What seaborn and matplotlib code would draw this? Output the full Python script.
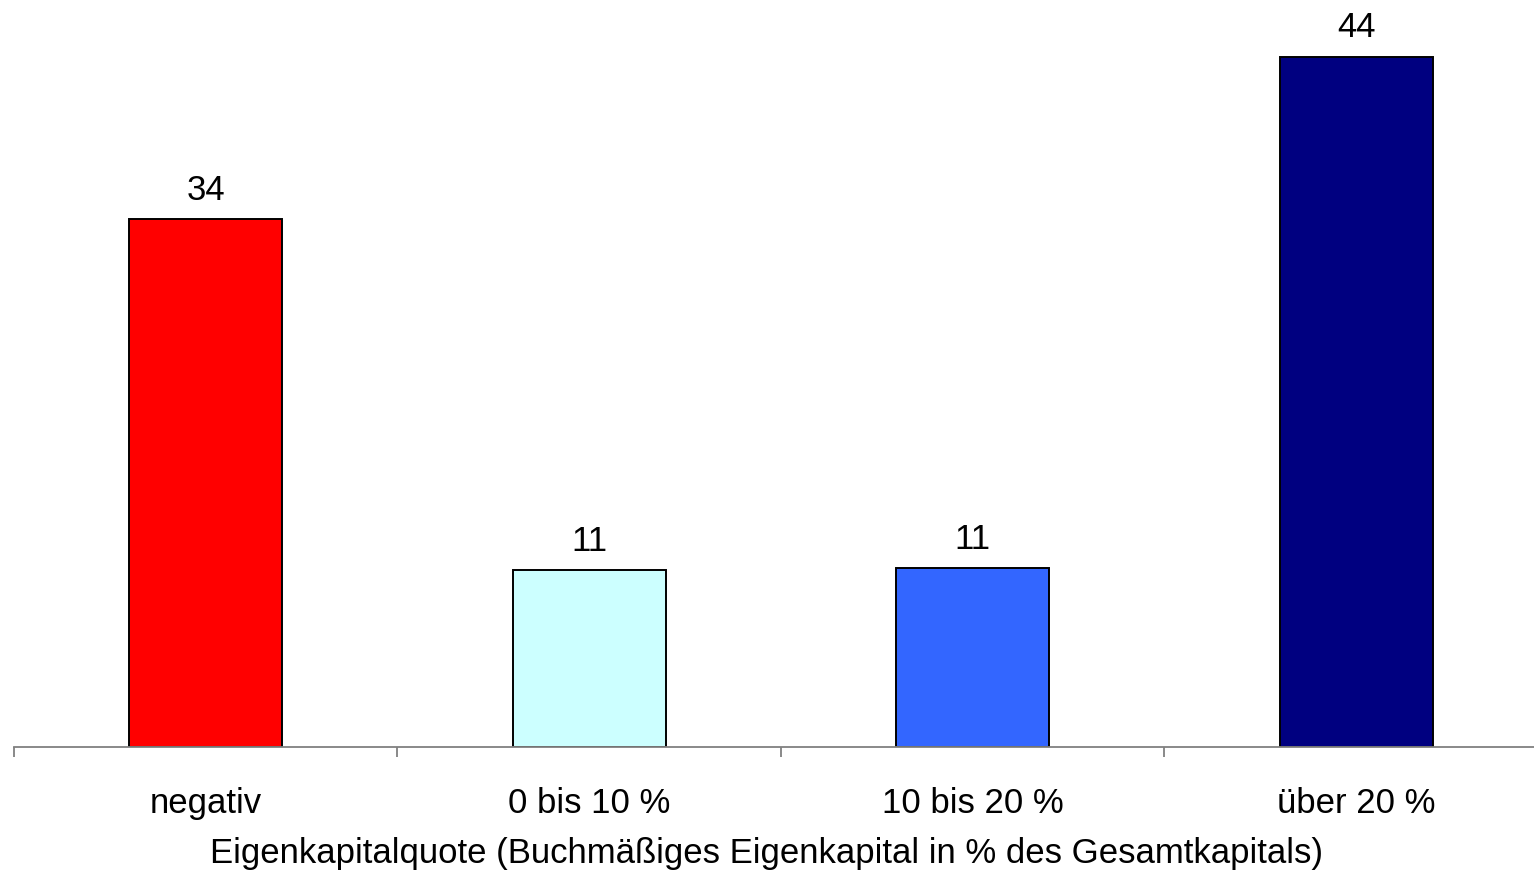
import matplotlib
matplotlib.use("Agg")
import matplotlib.pyplot as plt
import seaborn as sns
import pandas as pd
from matplotlib.ticker import FixedLocator

# Anteil der Unternehmen je Eigenkapitalquote-Klasse
categories = ["negativ", "0 bis 10 %", "10 bis 20 %", "über 20 %"]
values = [33.8, 11.3, 11.45, 44.2]
colors = ["#FF0000", "#CCFFFF", "#3366FF", "#000080"]
xlabel = "Eigenkapitalquote (Buchmäßiges Eigenkapital in % des Gesamtkapitals)"

sns.set_style("white")
plt.rcParams["font.family"] = ["Liberation Sans", "DejaVu Sans"]
plt.rcParams["text.color"] = "black"
plt.rcParams["xtick.color"] = "#808080"
plt.rcParams["xtick.labelcolor"] = "black"
plt.rcParams["axes.labelcolor"] = "black"

df = pd.DataFrame({"Klasse": categories, "Wert": values})

W, H = 1534, 877
fig = plt.figure(figsize=(W / 100, H / 100), dpi=100)
ymax = 46.0
px_per_unit = 15.62
ax_left, ax_right = 14, 1548
base = 747
ax_top = base - ymax * px_per_unit
ax = fig.add_axes([ax_left / W, (H - base) / H, (ax_right - ax_left) / W, (base - ax_top) / H])

sns.barplot(data=df, x="Klasse", y="Wert", hue="Klasse", palette=colors,
            width=0.4, edgecolor="black", linewidth=1.4, legend=False,
            saturation=1, ax=ax)

for cont in ax.containers:
    ax.bar_label(cont, fmt="%.0f", padding=9, fontsize=25, color="black")

ax.set_xlim(-0.5, 3.5)
ax.set_ylim(0, ymax)
ax.set_yticks([])
ax.set_ylabel("")
for s in ["left", "right", "top"]:
    ax.spines[s].set_visible(False)
ax.spines["bottom"].set_color("#808080")
ax.spines["bottom"].set_linewidth(1.3)

# category boundaries as minor ticks, labels centred under bars
ax.xaxis.set_minor_locator(FixedLocator([-0.5, 0.5, 1.5, 2.5, 3.5]))
ax.tick_params(axis="x", which="minor", bottom=True, length=7.5, width=1.3,
               color="#808080", direction="out")
ax.tick_params(axis="x", which="major", bottom=True, length=0, pad=29, labelsize=25)

ax.set_xlabel(xlabel, fontsize=25, labelpad=12)
ax.xaxis.label.set_x((767 - ax_left) / (ax_right - ax_left))

fig.savefig("out.png", dpi=100)
